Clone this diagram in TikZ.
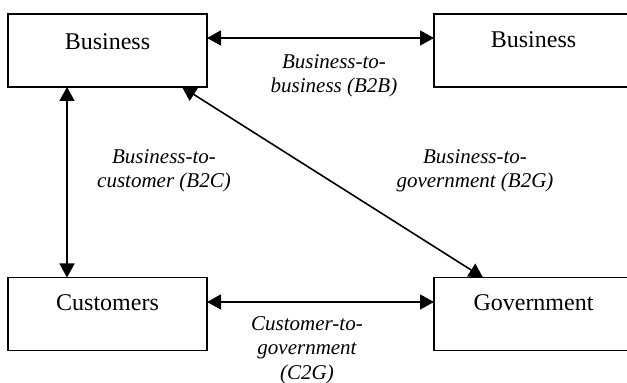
\documentclass[tikz,border=0pt]{standalone}
\usepackage{fontspec}
\setmainfont{Liberation Serif}
\usetikzlibrary{arrows.meta}
\tikzset{
  box/.style={draw, line width=1.6pt, minimum width=199pt, minimum height=73pt, inner sep=0pt, outer sep=0pt},
  boxtext/.style={font=\fontsize{24pt}{28pt}\selectfont},
  rel/.style={font=\fontsize{21pt}{24.5pt}\selectfont\itshape, align=center, inner sep=0pt},
  link/.style={line width=1.6pt, {Triangle[length=14pt,width=15pt]}-{Triangle[length=14pt,width=15pt]}}
}
\begin{document}
\begin{tikzpicture}[x=1pt,y=1pt]
\useasboundingbox (0,0) rectangle (627,383);
\node[box] (b1) at (107.5,332.5) {};
\node[box] (b2) at (533.5,332.5) {};
\node[box] (b3) at (107.5,69) {};
\node[box] (b4) at (533.5,69) {};
\node[boxtext] (t1) at ([yshift=9pt]b1.center) {Business};
\node[boxtext] (t2) at ([yshift=11pt]b2.center) {Business};
\node[boxtext] (t3) at ([yshift=11pt]b3.center) {Customers};
\node[boxtext] (t4) at ([yshift=11pt]b4.center) {Government};
\draw[link] ([yshift=12.5pt]b1.east) -- ([yshift=12.5pt]b2.west);
\draw[link] ([yshift=12pt]b3.east) -- ([yshift=12pt]b4.west);
\draw[link] ([xshift=59pt]b1.south west) -- ([xshift=59pt]b3.north west);
\draw[link] ([xshift=174pt]b1.south west) -- ([xshift=49pt]b4.north west);
\node[rel] (l1) at (334,307) {Business-to-\\business (B2B)};
\node[rel] (l2) at (164,212) {Business-to-\\customer (B2C)};
\node[rel] (l3) at (475,212) {Business-to-\\government (B2G)};
\node[rel] (l4) at (307,33) {Customer-to-\\government\\(C2G)};
\end{tikzpicture}
\end{document}
